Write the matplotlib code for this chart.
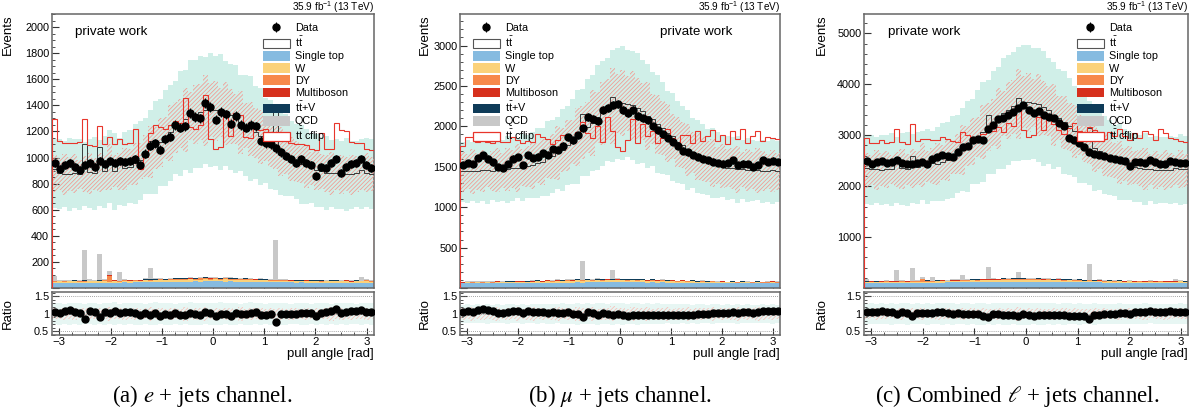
import numpy as np
import matplotlib
matplotlib.use('Agg')
import matplotlib.pyplot as plt
from matplotlib.patches import Patch
from matplotlib.ticker import MultipleLocator, FuncFormatter

plt.rcParams['font.family'] = ['Liberation Sans', 'DejaVu Sans']
plt.rcParams['mathtext.fontset'] = 'custom'
plt.rcParams['mathtext.rm'] = 'Liberation Sans'
plt.rcParams['mathtext.it'] = 'Liberation Sans:italic'
plt.rcParams['hatch.linewidth'] = 0.6

n_bins = 64
edges = np.linspace(-np.pi, np.pi, n_bins + 1)
centers = 0.5 * (edges[1:] + edges[:-1])

# ---------------- e + jets ----------------
data_a = [960, 910, 940, 960, 930, 905, 940, 955, 930, 975, 950, 975, 960, 975, 965, 975,
          990, 945, 1030, 1090, 1110, 1060, 1140, 1160, 1250, 1230, 1240, 1340, 1310, 1300, 1420, 1390,
          1290, 1350, 1330, 1260, 1320, 1250, 1230, 1250, 1240, 1130, 1110, 1100, 1070, 1040, 1010, 990,
          960, 985, 960, 945, 860, 930, 920, 960, 990, 880, 930, 950, 960, 990, 940, 920]
tt_a = [820, 818, 815, 817, 819, 815, 817, 821, 820, 824, 826, 830, 834, 840, 848, 866,
        890, 914, 942, 975, 1008, 1042, 1080, 1118, 1156, 1185, 1214, 1238, 1257, 1271, 1280, 1285,
        1280, 1271, 1257, 1238, 1219, 1196, 1172, 1149, 1120, 1092, 1064, 1036, 1013, 984, 956, 932,
        909, 890, 871, 856, 842, 832, 825, 819, 815, 813, 812, 813, 815, 817, 819, 817]
cflip_a = [1205, 1060, 1050, 1055, 1045, 1060, 1010, 1030, 1025, 985, 1035, 1030, 1040, 1020, 1035, 1045,
           1150, 850, 930, 1040, 1180, 1160, 1150, 1175, 1200, 1190, 1380, 1150, 1140, 1170, 1390, 1060,
           980, 1000, 1240, 1080, 1260, 1250, 1080, 1070, 1170, 1140, 1150, 1130, 800, 1075, 1070, 1050,
           1045, 1040, 1030, 1005, 1000, 1120, 1005, 1000, 1200, 1150, 1140, 1060, 1050, 1025, 1000, 995]
st_a = [40, 39, 41, 40, 38, 40, 41, 39, 40, 42, 41, 40, 42, 41, 43, 42,
        44, 43, 45, 44, 46, 45, 47, 46, 48, 47, 49, 48, 50, 49, 51, 50,
        50, 51, 49, 50, 48, 49, 47, 48, 46, 47, 45, 46, 44, 45, 43, 44,
        42, 43, 41, 42, 40, 41, 40, 39, 41, 40, 39, 40, 41, 39, 40, 40]
w_a = [8, 12, 6, 10, 15, 9, 7, 12, 10, 8, 14, 9, 11, 7, 13, 10,
       12, 9, 15, 11, 13, 16, 12, 14, 17, 13, 15, 18, 14, 16, 19, 15,
       17, 14, 18, 15, 16, 13, 17, 12, 15, 11, 14, 10, 13, 9, 12, 8,
       11, 10, 12, 9, 13, 8, 10, 12, 9, 11, 14, 8, 10, 12, 15, 9]
dy_a = [3, 2, 4, 1, 3, 2, 5, 3, 2, 4, 3, 45, 4, 2, 3, 5,
        2, 4, 3, 6, 4, 5, 3, 6, 4, 7, 5, 6, 4, 8, 5, 7,
        6, 5, 7, 4, 6, 5, 3, 6, 4, 5, 3, 4, 2, 5, 3, 4,
        2, 3, 4, 2, 3, 5, 2, 3, 4, 2, 3, 1, 4, 2, 3, 2]
mb_a = [2, 1, 3, 2, 1, 2, 3, 1, 2, 2, 1, 3, 2, 1, 2, 3,
        1, 2, 2, 3, 1, 2, 3, 2, 2, 3, 1, 2, 3, 2, 2, 3,
        2, 1, 3, 2, 2, 1, 2, 3, 1, 2, 2, 1, 3, 2, 1, 2,
        2, 1, 2, 3, 1, 2, 1, 2, 3, 1, 2, 2, 1, 2, 3, 1]
ttv_a = [3, 2, 2, 3, 2, 3, 2, 2, 3, 2, 3, 2, 3, 2, 3, 3,
         2, 3, 3, 2, 4, 3, 3, 4, 3, 4, 3, 4, 4, 3, 4, 4,
         3, 4, 3, 4, 3, 3, 4, 3, 3, 2, 3, 3, 2, 3, 3, 2,
         3, 2, 3, 2, 2, 3, 2, 3, 2, 2, 3, 2, 3, 2, 2, 3]
qcd_a = [35, 8, 5, 3, 6, 4, 230, 10, 4, 200, 6, 30, 3, 67, 5, 2,
         4, 3, 6, 85, 5, 3, 4, 2, 6, 3, 5, 4, 2, 3, 5, 6,
         4, 3, 8, 12, 3, 5, 2, 4, 3, 6, 4, 5, 305, 3, 6, 4,
         2, 5, 3, 4, 2, 6, 3, 5, 4, 2, 3, 5, 4, 30, 3, 5]
teal_a = [0.30, 0.31, 0.29, 0.32, 0.30, 0.31, 0.28, 0.30, 0.32, 0.29, 0.31, 0.30, 0.33, 0.29, 0.31, 0.30,
          0.32, 0.31, 0.29, 0.31, 0.33, 0.30, 0.32, 0.31, 0.29, 0.32, 0.30, 0.33, 0.31, 0.32, 0.30, 0.32,
          0.31, 0.33, 0.30, 0.31, 0.32, 0.29, 0.31, 0.33, 0.30, 0.32, 0.29, 0.31, 0.30, 0.32, 0.31, 0.29,
          0.30, 0.32, 0.31, 0.29, 0.31, 0.30, 0.32, 0.29, 0.31, 0.30, 0.32, 0.30, 0.29, 0.31, 0.30, 0.31]
red_a = [0.16, 0.14, 0.18, 0.15, 0.17, 0.13, 0.16, 0.18, 0.14, 0.17, 0.15, 0.19, 0.14, 0.16, 0.18, 0.15,
         0.17, 0.14, 0.16, 0.19, 0.15, 0.17, 0.14, 0.18, 0.16, 0.15, 0.19, 0.14, 0.17, 0.16, 0.20, 0.15,
         0.17, 0.14, 0.18, 0.16, 0.15, 0.19, 0.14, 0.17, 0.16, 0.18, 0.14, 0.16, 0.15, 0.18, 0.14, 0.17,
         0.16, 0.15, 0.18, 0.14, 0.17, 0.15, 0.16, 0.19, 0.14, 0.17, 0.15, 0.18, 0.16, 0.14, 0.17, 0.15]

# ---------------- mu + jets ----------------
data_b = [1520, 1545, 1530, 1610, 1640, 1600, 1555, 1500, 1480, 1530, 1600, 1620, 1520, 1640, 1610, 1625,
          1665, 1645, 1720, 1710, 1760, 1865, 1830, 1890, 1975, 2115, 2095, 2060, 2200, 2230, 2260, 2280,
          2200, 2165, 2200, 2130, 2100, 2075, 2000, 1950, 1900, 1860, 1810, 1760, 1700, 1680, 1645, 1625,
          1600, 1580, 1565, 1550, 1540, 1545, 1580, 1520, 1540, 1530, 1500, 1520, 1580, 1560, 1575, 1560]
tt_b = [1365, 1363, 1367, 1365, 1370, 1372, 1370, 1374, 1378, 1383, 1390, 1396, 1405, 1417, 1432, 1450,
        1473, 1500, 1533, 1570, 1612, 1660, 1712, 1764, 1822, 1880, 1938, 1996, 2050, 2098, 2142, 2170,
        2180, 2170, 2146, 2112, 2074, 2030, 1982, 1930, 1877, 1824, 1771, 1718, 1670, 1622, 1579, 1541,
        1508, 1480, 1457, 1439, 1421, 1408, 1398, 1390, 1384, 1380, 1376, 1373, 1371, 1369, 1368, 1366]
cflip_b = [1675, 1785, 1785, 1725, 1805, 1725, 1715, 1755, 1725, 1715, 1785, 1745, 1705, 1735, 1715, 1805,
           1775, 1735, 1685, 1725, 1795, 1755, 1715, 1825, 1720, 1805, 1745, 1885, 1685, 2005, 1720, 1625,
           1575, 1725, 1975, 1685, 1915, 1775, 1825, 1685, 1745, 1875, 1755, 1685, 1785, 1805, 1695, 1855,
           1725, 1795, 1865, 1735, 1805, 1705, 1855, 1765, 1885, 1715, 1805, 1855, 1745, 1785, 1775, 1755]
st_b = [58, 60, 59, 61, 60, 62, 59, 61, 63, 60, 62, 61, 64, 62, 63, 65,
        64, 66, 65, 67, 66, 68, 67, 69, 68, 70, 69, 71, 70, 72, 71, 72,
        71, 70, 72, 69, 71, 68, 70, 67, 69, 66, 68, 65, 67, 64, 66, 63,
        65, 62, 64, 61, 63, 60, 62, 59, 61, 60, 59, 61, 60, 58, 60, 59]
w_b = [6, 10, 8, 12, 7, 11, 9, 14, 8, 12, 10, 15, 9, 13, 11, 16,
       12, 18, 14, 20, 16, 22, 18, 24, 20, 23, 19, 25, 21, 24, 22, 26,
       23, 21, 25, 20, 24, 19, 22, 17, 21, 16, 19, 14, 18, 13, 16, 12,
       15, 11, 14, 10, 13, 9, 12, 8, 11, 10, 9, 12, 8, 10, 14, 9]
dy_b = [3, 2, 4, 3, 5, 2, 3, 4, 2, 5, 3, 4, 6, 3, 4, 5,
        3, 6, 4, 5, 7, 4, 6, 5, 8, 5, 7, 6, 9, 6, 8, 7,
        6, 8, 5, 7, 6, 4, 7, 5, 6, 4, 5, 3, 6, 4, 5, 3,
        4, 3, 5, 2, 4, 3, 2, 4, 3, 2, 4, 3, 2, 3, 4, 2]
mb_b = [2, 3, 2, 1, 3, 2, 2, 3, 1, 2, 3, 2, 3, 2, 4, 3,
        2, 3, 4, 3, 2, 4, 3, 3, 4, 3, 4, 3, 4, 5, 3, 4,
        3, 4, 3, 4, 3, 2, 3, 4, 2, 3, 3, 2, 3, 2, 3, 2,
        2, 3, 2, 2, 3, 1, 2, 3, 2, 2, 1, 3, 2, 2, 3, 2]
ttv_b = [3, 4, 3, 3, 4, 3, 4, 3, 4, 4, 3, 4, 4, 5, 4, 4,
         5, 4, 5, 5, 4, 5, 6, 5, 5, 6, 5, 6, 6, 5, 6, 6,
         5, 6, 5, 6, 5, 5, 6, 5, 4, 5, 5, 4, 5, 4, 4, 5,
         4, 4, 3, 4, 4, 3, 4, 3, 4, 3, 3, 4, 3, 4, 3, 3]
qcd_b = [6, 4, 8, 3, 5, 7, 4, 6, 3, 5, 8, 4, 6, 3, 7, 5,
         4, 6, 3, 8, 5, 4, 6, 3, 230, 5, 4, 7, 6, 3, 110, 4,
         6, 3, 5, 4, 7, 3, 5, 6, 4, 3, 5, 4, 6, 3, 5, 4,
         3, 6, 4, 5, 3, 4, 6, 3, 5, 4, 3, 6, 4, 5, 3, 12]
teal_b = [0.26, 0.27, 0.25, 0.27, 0.26, 0.28, 0.25, 0.27, 0.26, 0.28, 0.27, 0.25, 0.28, 0.26, 0.27, 0.28,
          0.27, 0.29, 0.28, 0.27, 0.30, 0.28, 0.29, 0.31, 0.28, 0.30, 0.29, 0.31, 0.30, 0.29, 0.31, 0.30,
          0.31, 0.29, 0.30, 0.31, 0.29, 0.30, 0.28, 0.30, 0.29, 0.27, 0.29, 0.28, 0.27, 0.29, 0.26, 0.28,
          0.27, 0.26, 0.28, 0.27, 0.25, 0.27, 0.26, 0.28, 0.25, 0.27, 0.26, 0.25, 0.27, 0.26, 0.28, 0.26]
red_b = [0.17, 0.15, 0.19, 0.16, 0.18, 0.14, 0.17, 0.19, 0.15, 0.18, 0.16, 0.20, 0.15, 0.17, 0.19, 0.16,
         0.18, 0.15, 0.17, 0.20, 0.16, 0.18, 0.15, 0.19, 0.17, 0.16, 0.20, 0.15, 0.18, 0.17, 0.21, 0.16,
         0.18, 0.15, 0.19, 0.17, 0.16, 0.20, 0.15, 0.18, 0.17, 0.19, 0.15, 0.17, 0.16, 0.19, 0.15, 0.18,
         0.17, 0.16, 0.19, 0.15, 0.18, 0.16, 0.17, 0.20, 0.15, 0.18, 0.16, 0.19, 0.17, 0.15, 0.18, 0.16]

# ---------------- combined l + jets ----------------
data_c = [2490, 2430, 2480, 2490, 2460, 2480, 2520, 2450, 2425, 2440, 2460, 2480, 2430, 2540, 2580, 2610,
          2590, 2580, 2680, 2760, 2790, 2900, 2930, 2910, 3120, 3200, 3310, 3340, 3400, 3460, 3530, 3600,
          3500, 3440, 3470, 3400, 3360, 3330, 3240, 3180, 2950, 2900, 2850, 2760, 2680, 2630, 2610, 2590,
          2560, 2530, 2510, 2490, 2400, 2480, 2470, 2460, 2520, 2470, 2440, 2430, 2490, 2470, 2460, 2460]
tt_c = [2185, 2181, 2182, 2182, 2189, 2188, 2188, 2195, 2199, 2207, 2216, 2226, 2238, 2255, 2278, 2315,
        2362, 2413, 2475, 2546, 2622, 2703, 2795, 2885, 2980, 3068, 3154, 3235, 3307, 3369, 3422, 3455,
        3460, 3441, 3403, 3350, 3293, 3225, 3153, 3077, 2995, 2913, 2832, 2750, 2678, 2601, 2529, 2467,
        2410, 2362, 2320, 2287, 2254, 2231, 2214, 2200, 2190, 2184, 2179, 2178, 2179, 2180, 2182, 2180]
cflip_c = [2780, 2700, 2710, 2760, 2690, 2720, 2780, 2700, 2690, 2830, 2720, 2700, 2760, 2690, 2740, 2810,
           2770, 2720, 2690, 2800, 2840, 2780, 2760, 2850, 2680, 2900, 2970, 2860, 3050, 2980, 3200, 2900,
           2760, 2820, 3150, 2900, 3110, 3050, 2920, 2840, 2960, 3060, 2900, 2830, 2700, 2950, 2860, 2770,
           2900, 2840, 2960, 2830, 2760, 2890, 2800, 2940, 2870, 2760, 2980, 2890, 2810, 2760, 2740, 2720]
st_c = [98, 99, 100, 101, 98, 102, 100, 100, 103, 102, 103, 101, 106, 103, 106, 107,
        108, 109, 110, 111, 112, 113, 114, 115, 116, 117, 118, 119, 120, 121, 122, 122,
        121, 121, 121, 119, 119, 117, 117, 115, 115, 113, 113, 111, 111, 109, 109, 107,
        107, 105, 105, 103, 103, 101, 102, 98, 102, 100, 98, 101, 101, 97, 100, 99]
w_c = [14, 22, 14, 22, 22, 20, 16, 26, 18, 20, 24, 24, 20, 20, 24, 26,
       24, 27, 29, 31, 29, 38, 30, 38, 37, 36, 34, 43, 35, 40, 41, 41,
       40, 35, 43, 35, 40, 32, 39, 29, 36, 27, 33, 24, 31, 22, 28, 20,
       26, 21, 26, 19, 26, 17, 22, 20, 20, 21, 23, 20, 18, 22, 29, 18]
dy_c = [6, 4, 8, 4, 8, 4, 8, 7, 4, 9, 6, 49, 10, 5, 7, 10,
        5, 10, 7, 11, 11, 9, 9, 11, 12, 12, 12, 12, 13, 14, 13, 14,
        12, 13, 12, 11, 12, 9, 10, 11, 10, 9, 8, 7, 8, 9, 8, 7,
        6, 6, 9, 4, 7, 8, 4, 7, 7, 4, 7, 4, 6, 5, 7, 4]
mb_c = [4, 4, 5, 3, 4, 4, 5, 4, 3, 4, 4, 5, 5, 3, 6, 6,
        3, 5, 6, 6, 3, 6, 6, 5, 6, 6, 5, 5, 7, 7, 5, 7,
        5, 5, 6, 6, 5, 3, 5, 7, 3, 5, 5, 3, 6, 4, 4, 4,
        4, 4, 4, 5, 4, 3, 3, 5, 5, 3, 3, 5, 3, 4, 6, 3]
ttv_c = [6, 6, 5, 6, 6, 6, 6, 5, 7, 6, 6, 6, 7, 7, 7, 7,
         7, 7, 8, 7, 8, 8, 9, 9, 8, 10, 8, 10, 10, 8, 10, 10,
         8, 10, 8, 10, 8, 8, 10, 8, 7, 7, 8, 7, 7, 7, 7, 7,
         7, 6, 6, 6, 6, 6, 6, 6, 6, 5, 6, 6, 6, 6, 5, 6]
qcd_c = [41, 12, 13, 6, 11, 11, 216, 16, 7, 243, 14, 34, 9, 70, 12, 7,
         8, 9, 9, 93, 10, 7, 10, 5, 230, 8, 9, 11, 8, 6, 115, 10,
         10, 6, 13, 16, 10, 8, 7, 10, 7, 9, 9, 9, 308, 6, 11, 8,
         5, 11, 7, 9, 5, 10, 9, 8, 9, 6, 6, 11, 8, 35, 6, 17]
teal_c = [0.29, 0.30, 0.28, 0.30, 0.29, 0.31, 0.28, 0.30, 0.31, 0.29, 0.30, 0.28, 0.31, 0.29, 0.30, 0.31,
          0.30, 0.31, 0.29, 0.30, 0.32, 0.29, 0.31, 0.32, 0.29, 0.31, 0.30, 0.32, 0.31, 0.30, 0.31, 0.31,
          0.31, 0.30, 0.31, 0.32, 0.30, 0.31, 0.29, 0.31, 0.30, 0.29, 0.31, 0.29, 0.29, 0.31, 0.28, 0.29,
          0.29, 0.28, 0.30, 0.29, 0.28, 0.29, 0.28, 0.30, 0.27, 0.29, 0.28, 0.28, 0.29, 0.28, 0.30, 0.29]
red_c = [0.15, 0.13, 0.17, 0.14, 0.16, 0.12, 0.15, 0.17, 0.13, 0.16, 0.14, 0.18, 0.13, 0.15, 0.17, 0.14,
         0.16, 0.13, 0.15, 0.18, 0.14, 0.16, 0.13, 0.17, 0.15, 0.14, 0.18, 0.13, 0.16, 0.15, 0.19, 0.14,
         0.16, 0.13, 0.17, 0.15, 0.14, 0.18, 0.13, 0.16, 0.15, 0.17, 0.13, 0.15, 0.14, 0.17, 0.13, 0.16,
         0.15, 0.14, 0.17, 0.13, 0.16, 0.14, 0.15, 0.18, 0.13, 0.16, 0.14, 0.17, 0.15, 0.13, 0.16, 0.14]

bkg_names = ['Single top', 'W', 'DY', 'Multiboson', r'$\mathrm{t\bar{t}}$+V', 'QCD']
bkg_colors = ['#86bbe0', '#fbd27a', '#f7894a', '#d6301d', '#0e3b58', '#c8c8c8']
teal_color = '#d0efe8'
red_line = '#e8352b'
frame = '#666666'

W, H = 1196, 412
panels = [
    dict(data=data_a, tt=tt_a, cf=cflip_a, bkg=[st_a, w_a, dy_a, mb_a, ttv_a, qcd_a], teal=teal_a, red=red_a,
         left=52, width=322, ymax=2100, major=200, minor=50, pw=0.07, leg=0.655, evx=-0.118,
         cap=r'(a) $e$ + jets channel.', capx=202),
    dict(data=data_b, tt=tt_b, cf=cflip_b, bkg=[st_b, w_b, dy_b, mb_b, ttv_b, qcd_b], teal=teal_b, red=red_b,
         left=460, width=320, ymax=3390, major=500, minor=100, pw=0.625, leg=0.04, evx=-0.09,
         cap=r'(b) $\mu$ + jets channel.', capx=620),
    dict(data=data_c, tt=tt_c, cf=cflip_c, bkg=[st_c, w_c, dy_c, mb_c, ttv_c, qcd_c], teal=teal_c, red=red_c,
         left=864, width=324, ymax=5380, major=1000, minor=200, pw=0.074, leg=0.657, evx=-0.113,
         cap=r'(c) Combined $\ell$ + jets channel.', capx=1017),
]

fig = plt.figure(figsize=(W / 100, H / 100), dpi=100)


def style(ax):
    for s in ax.spines.values():
        s.set_color(frame)
        s.set_linewidth(1.1)
    ax.tick_params(which='both', direction='in', colors='#333333', labelcolor='black', labelsize=7.8, pad=2)
    ax.tick_params(which='major', length=5)
    ax.tick_params(which='minor', length=2.5)


for p in panels:
    l = p['left'] / W
    w = p['width'] / W
    ax = fig.add_axes([l, (H - 288) / H, w, 274 / H])
    rx = fig.add_axes([l, (H - 335) / H, w, 43 / H])

    data = np.array(p['data'], dtype=float)
    teal = np.array(p['teal'])
    red = np.array(p['red'])
    bottom = np.zeros(n_bins)
    for vals, col in zip(p['bkg'], bkg_colors):
        top = bottom + np.array(vals)
        ax.stairs(top, edges, baseline=bottom, fill=True, color=col, lw=0, zorder=2)
        bottom = top
    total = bottom + np.array(p['tt'])
    cflip = bottom + np.array(p['cf'])
    # uncertainty bands drawn around the prediction without the QCD spikes
    smooth = total - np.array(p['bkg'][-1])

    ax.stairs(smooth * (1 + teal), edges, baseline=smooth * (1 - teal), fill=True,
              color=teal_color, lw=0, zorder=1)
    ax.stairs(smooth * (1 + red), edges, baseline=smooth * (1 - red), fill=True, facecolor='none',
              edgecolor='#f19d95', hatch='////////', lw=0, zorder=3)
    ax.stairs(total, edges, color='#3a3a3a', lw=0.7, zorder=4)
    ax.stairs(cflip, edges, color=red_line, lw=0.8, zorder=5)
    dat = ax.errorbar(centers, data, yerr=np.sqrt(data), fmt='o', color='black', ms=5,
                      elinewidth=0.8, capsize=0, zorder=6)

    ax.set_xlim(-np.pi, np.pi)
    ax.set_ylim(0, p['ymax'])
    style(ax)
    ax.xaxis.set_major_locator(MultipleLocator(1))
    ax.xaxis.set_minor_locator(MultipleLocator(0.25))
    ax.yaxis.set_major_locator(MultipleLocator(p['major']))
    ax.yaxis.set_minor_locator(MultipleLocator(p['minor']))
    ax.yaxis.set_major_formatter(FuncFormatter(lambda v, pos: '' if v == 0 else '%d' % v))
    ax.tick_params(axis='x', labelbottom=False)
    ax.set_ylabel('Events', loc='top', fontsize=9.5)
    ax.yaxis.set_label_coords(p['evx'], 1.0)

    ax.text(1.0, 1.011, r'35.9 fb$^{-1}$ (13 TeV)', transform=ax.transAxes, ha='right', va='baseline',
            fontsize=7.2)
    ax.text(p['pw'], 0.934, 'private work', transform=ax.transAxes, ha='left', va='center',
            fontsize=9.6)

    handles = [dat, Patch(facecolor='white', edgecolor='#555555', lw=0.8)]
    handles += [Patch(facecolor=c, edgecolor='none') for c in bkg_colors]
    handles += [Patch(facecolor='white', edgecolor=red_line, lw=0.9)]
    labels = ['Data', r'$\mathrm{t\bar{t}}$'] + bkg_names + [r'$\mathrm{t\bar{t}}$ cflip']
    leg = ax.legend(handles, labels, loc='upper left', bbox_to_anchor=(p['leg'], 0.968), frameon=False,
                    fontsize=7.8, handlelength=2.5, handleheight=1.0, labelspacing=0.16, handletextpad=0.45,
                    borderaxespad=0, borderpad=0)
    leg.set_zorder(10)

    # ratio panel
    rx.stairs(1 + teal, edges, baseline=1 - teal, fill=True, color=teal_color, alpha=0.5, lw=0, zorder=1)
    rx.stairs(1 + red, edges, baseline=1 - red, fill=True, facecolor='none', edgecolor='#f6c2bb',
              hatch='////////', lw=0, zorder=2)
    for yv in (0.5, 1.0, 1.5):
        rx.axhline(yv, color='#888888', lw=0.6, ls=(0, (1, 1.5)), zorder=3)
    rx.errorbar(centers, data / total, yerr=np.sqrt(data) / total, fmt='o', color='black', ms=5,
                elinewidth=0.8, capsize=0, zorder=6)
    rx.set_xlim(-np.pi, np.pi)
    rx.set_ylim(0.4, 1.62)
    style(rx)
    rx.xaxis.set_major_locator(MultipleLocator(1))
    rx.xaxis.set_minor_locator(MultipleLocator(0.25))
    rx.yaxis.set_major_locator(MultipleLocator(0.5))
    rx.yaxis.set_minor_locator(MultipleLocator(0.1))
    rx.yaxis.set_major_formatter(FuncFormatter(lambda v, pos: '%g' % v))
    rx.tick_params(axis='x', pad=1.5, labelsize=8.2)
    rx.set_ylabel('Ratio', fontsize=9.5)
    rx.yaxis.set_label_coords(p['evx'], 0.5)
    rx.set_xlabel('pull angle [rad]', loc='right', fontsize=9.5)
    rx.xaxis.set_label_coords(1.0, -0.3)

    fig.text(p['capx'] / W, 1 - 396 / H, p['cap'], ha='center', va='center', fontsize=16.5,
             family='Liberation Serif', math_fontfamily='stix')

fig.savefig('out.png', dpi=100)
